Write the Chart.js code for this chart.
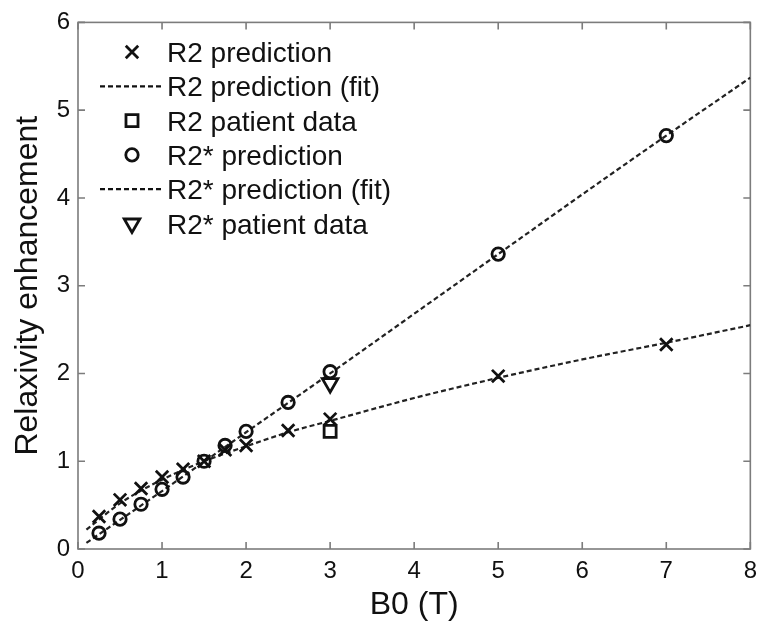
<!DOCTYPE html>
<html>
<head>
<meta charset="utf-8">
<script src="https://cdn.jsdelivr.net/npm/chart.js@4/dist/chart.umd.min.js"></script>
<style>
	html, body { margin: 0; padding: 0; background: #fff; }
	#wrap { width: 765px; height: 628px; }
</style>
</head>
<body>
<div id="wrap"><canvas id="myChart"></canvas></div>
<script>
// field strengths of the simulated points
const fieldStrength = [0.25, 0.5, 0.75, 1, 1.25, 1.5, 1.75, 2, 2.5, 3, 5, 7];
const r2Prediction = [0.37, 0.56, 0.69, 0.82, 0.91, 1.0, 1.13, 1.18, 1.35, 1.48, 1.97, 2.33];
const r2StarPrediction = [0.18, 0.34, 0.51, 0.68, 0.82, 1.0, 1.18, 1.34, 1.67, 2.02, 3.36, 4.71];

// fitted curves
const r2FitX = [0.1, 0.5, 1, 1.5, 2, 2.5, 3, 4, 5, 6, 7, 8];
const r2FitY = [0.22, 0.52, 0.79, 1.0, 1.17, 1.33, 1.46, 1.72, 1.95, 2.16, 2.35, 2.55];
const r2StarFitX = [0.1, 1, 2, 3, 4, 5, 6, 7, 8];
const r2StarFitY = [0.07, 0.66, 1.33, 2.0, 2.68, 3.36, 4.04, 4.71, 5.37];

// patient measurements at 3 T
const patientB0 = [3];
const r2Patient = [1.34];
const r2StarPatient = [1.89];

const xTickLabels = ['0', '1', '2', '3', '4', '5', '6', '7', '8'];
const yTickLabels = ['0', '1', '2', '3', '4', '5', '6'];

function pts(xs, ys) {
	return xs.map((v, i) => ({x: v, y: ys[i]}));
}

function drawMarker(ctx, style, x, y, r) {
	ctx.beginPath();
	if (style === 'crossRot') {
		const o = r * Math.SQRT1_2;
		ctx.moveTo(x - o, y - o); ctx.lineTo(x + o, y + o);
		ctx.moveTo(x - o, y + o); ctx.lineTo(x + o, y - o);
	} else if (style === 'circle') {
		ctx.arc(x, y, r, 0, Math.PI * 2);
	} else if (style === 'rect') {
		const s = r * Math.SQRT1_2;
		ctx.rect(x - s, y - s, 2 * s, 2 * s);
	} else if (style === 'triangleDown') {
		for (let k = 0; k < 3; k++) {
			const a = Math.PI + k * 2 * Math.PI / 3;
			const px = x + Math.sin(a) * r, py = y - Math.cos(a) * r;
			if (k === 0) ctx.moveTo(px, py); else ctx.lineTo(px, py);
		}
		ctx.closePath();
	}
	ctx.stroke();
}

const boxPlugin = {
	id: 'matlabBox',
	beforeDatasetsDraw(chart) {
		const {ctx, chartArea: a, scales} = chart;
		const len = 7;
		ctx.save();
		ctx.strokeStyle = '#7c7c7c';
		ctx.lineWidth = 1.6;
		ctx.strokeRect(a.left, a.top, a.right - a.left, a.bottom - a.top);
		ctx.beginPath();
		scales.x.ticks.forEach(t => {
			const p = scales.x.getPixelForValue(t.value);
			ctx.moveTo(p, a.bottom); ctx.lineTo(p, a.bottom - len);
			ctx.moveTo(p, a.top); ctx.lineTo(p, a.top + len);
		});
		scales.y.ticks.forEach(t => {
			const p = scales.y.getPixelForValue(t.value);
			ctx.moveTo(a.left, p); ctx.lineTo(a.left + len, p);
			ctx.moveTo(a.right, p); ctx.lineTo(a.right - len, p);
		});
		ctx.stroke();
		ctx.restore();
	}
};

const legendPlugin = {
	id: 'insideLegend',
	afterDraw(chart) {
		const ctx = chart.ctx;
		ctx.save();
		ctx.font = "28px 'Liberation Sans', Arial, sans-serif";
		ctx.textBaseline = 'alphabetic';
		chart.data.datasets.forEach((ds, i) => {
			const base = 62 + i * 34.3;
			const cy = base - 10;
			ctx.strokeStyle = '#111';
			if (ds.showLine) {
				ctx.lineWidth = 2.2;
				ctx.setLineDash([5, 3]);
				ctx.beginPath();
				ctx.moveTo(100, cy); ctx.lineTo(161, cy);
				ctx.stroke();
				ctx.setLineDash([]);
			} else {
				ctx.lineWidth = 2.8;
				drawMarker(ctx, ds.legendStyle, 132, cy, ds.pointRadius);
			}
			ctx.fillStyle = '#111';
			ctx.fillText(ds.label, 167, base);
		});
		ctx.restore();
	}
};

function createChart() {
	const canvas = document.getElementById('myChart');
	Chart.defaults.font.family = "'Liberation Sans', Arial, sans-serif";
	Chart.defaults.color = '#111';

	const markerBase = {
		showLine: false,
		borderColor: '#111',
		backgroundColor: 'rgba(0,0,0,0)',
		pointBorderWidth: 2.8,
		order: 1
	};
	const fitBase = {
		showLine: true,
		borderColor: '#222',
		borderWidth: 2.2,
		borderDash: [5, 3],
		pointRadius: 0,
		cubicInterpolationMode: 'monotone',
		fill: false,
		order: 10
	};

	const data = {
		datasets: [
			Object.assign({}, markerBase, {
				label: 'R2 prediction',
				data: pts(fieldStrength, r2Prediction),
				pointStyle: 'crossRot', legendStyle: 'crossRot', pointRadius: 8.8
			}),
			Object.assign({}, fitBase, {
				label: 'R2 prediction (fit)',
				data: pts(r2FitX, r2FitY)
			}),
			Object.assign({}, markerBase, {
				label: 'R2 patient data',
				data: pts(patientB0, r2Patient),
				pointStyle: 'rect', legendStyle: 'rect', pointRadius: 8.5
			}),
			Object.assign({}, markerBase, {
				label: 'R2* prediction',
				data: pts(fieldStrength, r2StarPrediction),
				pointStyle: 'circle', legendStyle: 'circle', pointRadius: 6.2
			}),
			Object.assign({}, fitBase, {
				label: 'R2* prediction (fit)',
				data: pts(r2StarFitX, r2StarFitY)
			}),
			Object.assign({}, markerBase, {
				label: 'R2* patient data',
				data: pts(patientB0, r2StarPatient),
				pointStyle: 'triangle', pointRotation: 180, legendStyle: 'triangleDown', pointRadius: 9
			})
		]
	};

	const config = {
		type: 'scatter',
		data: data,
		options: {
			responsive: true,
			maintainAspectRatio: false,
			animation: false,
			layout: {padding: {top: 17, right: 11, left: 0, bottom: 0}},
			plugins: {legend: {display: false}, tooltip: {enabled: false}},
			scales: {
				x: {
					type: 'linear', min: 0, max: 8,
					grid: {display: false, drawTicks: false},
					border: {display: false},
					ticks: {
						stepSize: 1, padding: 8, maxRotation: 0,
						font: {size: 24},
						callback: v => xTickLabels[v]
					},
					title: {display: true, text: 'B0 (T)', font: {size: 32}, padding: {top: 0, bottom: 4}},
					afterFit: s => { s.height = 79; }
				},
				y: {
					type: 'linear', min: 0, max: 6,
					grid: {display: false, drawTicks: false},
					border: {display: false},
					ticks: {
						stepSize: 1, padding: 8,
						font: {size: 24},
						callback: v => yTickLabels[v]
					},
					title: {display: true, text: 'Relaxivity enhancement', font: {size: 32}, padding: {top: 9, bottom: 0}},
					afterFit: s => { s.width = 78; }
				}
			}
		},
		plugins: [boxPlugin, legendPlugin]
	};

	new Chart(canvas, config);
}

document.addEventListener('DOMContentLoaded', createChart);
</script>
</body>
</html>
